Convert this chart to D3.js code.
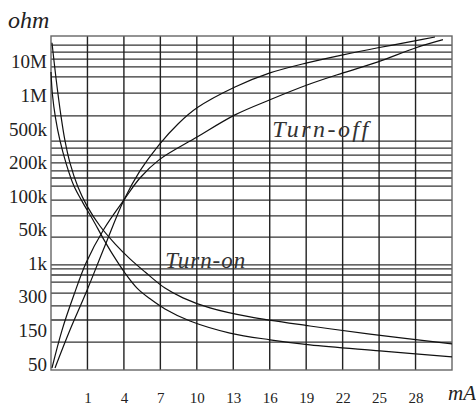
<!DOCTYPE html>
<html>
<head>
<meta charset="utf-8">
<script src="https://cdn.jsdelivr.net/npm/d3@7"></script>
<style>
  body { margin: 0; background: #fff; }
  svg { display: block; }
</style>
</head>
<body>
<div class="chart"></div>
<script>
// y axis is not a true log scale: each label sits one "level" above the previous one
const yLabels = ["50", "150", "300", "1k", "50k", "100k", "200k", "500k", "1M", "10M"];
const xTicks = [1, 4, 7, 10, 13, 16, 19, 22, 25, 28];

// horizontal rulings, in level units
const hGrid = [9.50, 9.29, 9.08, 8.85, 8.55, 8.07, 7.39, 6.64, 6.43, 6.22, 5.99, 5.75,
               5.54, 5.30, 4.88, 4.41, 3.78, 2.95, 2.83, 2.65, 2.44, 2.11, 1.73, 1.31, 0.65];

// [mA, level]
const turnOnA = [[-1.92, 9.57], [-1.59, 8.52], [-1.18, 7.39], [-0.85, 6.65], [-0.44, 5.99],
                 [0.22, 5.27], [0.96, 4.71], [2.03, 4.11], [3.27, 3.58], [4.50, 3.13],
                 [5.74, 2.74], [7.38, 2.26], [8.86, 1.97], [11.08, 1.67], [14.38, 1.40],
                 [19.31, 1.13], [24.25, 0.89], [31.0, 0.60]];
const turnOnB = [[-2.0, 8.70], [-1.88, 8.02], [-1.63, 7.33], [-1.26, 6.65], [-0.77, 5.99],
                 [-0.11, 5.30], [0.63, 4.80], [1.46, 4.29], [2.28, 3.75], [3.10, 3.25],
                 [4.09, 2.71], [5.08, 2.26], [6.15, 1.94], [7.38, 1.64], [9.44, 1.28],
                 [12.73, 0.92], [16.02, 0.72], [19.31, 0.57], [25.07, 0.39], [31.0, 0.21]];
const turnOffA = [[-1.67, -0.12], [-0.44, 1.01], [0.88, 2.12], [2.44, 3.52], [4.01, 4.89],
                  [5.32, 5.75], [6.89, 6.53], [8.45, 7.15], [10.02, 7.63], [13.14, 8.25],
                  [16.02, 8.67], [19.07, 8.97], [22.03, 9.21], [24.91, 9.42], [28.04, 9.63],
                  [29.60, 9.74]];
const turnOffB = [[-1.92, -0.12], [-1.09, 1.01], [-0.11, 2.06], [0.88, 3.01], [2.36, 4.02],
                  [4.01, 4.89], [5.32, 5.54], [6.89, 6.08], [10.02, 6.76], [13.14, 7.42],
                  [16.02, 7.87], [19.07, 8.31], [22.03, 8.67], [24.91, 9.00], [28.04, 9.42],
                  [30.26, 9.66]];

const svgWidth = 476;
const svgHeight = 407;
const plotLeft = 51, plotRight = 452, plotTop = 36, plotBottom = 370;

const svg = d3.select(".chart")
              .append("svg")
              .attr("width", svgWidth)
              .attr("height", svgHeight);

svg.append("rect")
   .attr("width", svgWidth)
   .attr("height", svgHeight)
   .attr("fill", "#fff");

const xScale = d3.scaleLinear()
                 .domain([-2, 31])
                 .range([plotLeft, plotRight]);

const yScale = d3.scaleLinear()
                 .domain([-0.18, 9.77])
                 .range([plotBottom, plotTop]);

// rulings
svg.append("g")
   .selectAll("line")
   .data(hGrid)
   .enter()
   .append("line")
   .attr("x1", plotLeft)
   .attr("x2", plotRight)
   .attr("y1", d => yScale(d))
   .attr("y2", d => yScale(d))
   .attr("stroke", "#333")
   .attr("stroke-width", 1.3);

svg.append("g")
   .selectAll("line")
   .data(xTicks)
   .enter()
   .append("line")
   .attr("x1", d => xScale(d))
   .attr("x2", d => xScale(d))
   .attr("y1", plotTop)
   .attr("y2", plotBottom)
   .attr("stroke", "#222")
   .attr("stroke-width", 1.4);

// frame
svg.append("rect")
   .attr("x", plotLeft)
   .attr("y", plotTop)
   .attr("width", plotRight - plotLeft)
   .attr("height", plotBottom - plotTop)
   .attr("fill", "none")
   .attr("stroke", "#666")
   .attr("stroke-width", 1.4);

// curves
const line = d3.line()
               .x(d => xScale(d[0]))
               .y(d => yScale(d[1]))
               .curve(d3.curveCatmullRom.alpha(0.5));

svg.append("g")
   .selectAll("path")
   .data([turnOnA, turnOnB, turnOffA, turnOffB])
   .enter()
   .append("path")
   .attr("d", line)
   .attr("fill", "none")
   .attr("stroke", "#111")
   .attr("stroke-width", 1.2);

// axes
const yAxis = d3.axisLeft(yScale)
                .tickValues(d3.range(yLabels.length))
                .tickFormat(i => yLabels[i])
                .tickSize(0)
                .tickPadding(4);

const yG = svg.append("g")
              .attr("transform", "translate(" + plotLeft + ",0)")
              .call(yAxis);

const xAxis = d3.axisBottom(xScale)
                .tickValues(xTicks)
                .tickFormat(d3.format("d"))
                .tickSize(0)
                .tickPadding(22);

const xG = svg.append("g")
              .attr("transform", "translate(0," + plotBottom + ")")
              .call(xAxis);

[yG, xG].forEach(g => {
  g.select(".domain").remove();
  g.selectAll("text")
   .attr("fill", "#222")
   .style("font-family", "'Liberation Serif', 'Times New Roman', serif");
});
yG.selectAll("text").style("font-size", "19px");
xG.selectAll("text").style("font-size", "15px");

// unit labels
svg.append("text")
   .attr("x", 8)
   .attr("y", 28)
   .text("ohm")
   .style("font-family", "'Liberation Serif', serif")
   .style("font-style", "italic")
   .style("font-size", "24px")
   .attr("fill", "#222");

svg.append("text")
   .attr("x", 448)
   .attr("y", 400)
   .text("mA")
   .style("font-family", "'Liberation Serif', serif")
   .style("font-style", "italic")
   .style("font-size", "21px")
   .attr("fill", "#222");

// curve names
svg.append("text")
   .attr("x", xScale(7.4))
   .attr("y", yScale(2.87))
   .attr("textLength", 80)
   .attr("lengthAdjust", "spacing")
   .text("Turn-on")
   .style("font-family", "'Liberation Serif', serif")
   .style("font-style", "italic")
   .style("font-size", "23px")
   .attr("fill", "#333");

svg.append("text")
   .attr("x", xScale(16.2))
   .attr("y", yScale(6.75))
   .attr("textLength", 96)
   .attr("lengthAdjust", "spacing")
   .text("Turn-off")
   .style("font-family", "'Liberation Serif', serif")
   .style("font-style", "italic")
   .style("font-size", "24px")
   .attr("fill", "#333");
</script>
</body>
</html>
